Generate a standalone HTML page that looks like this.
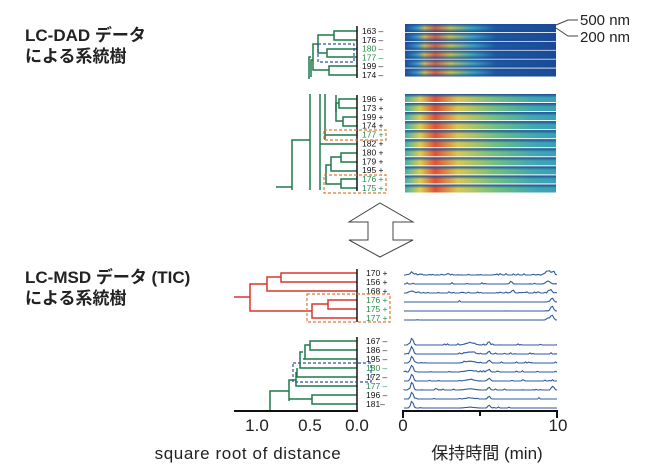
<!DOCTYPE html>
<html><head><meta charset="utf-8"><style>
html,body{margin:0;padding:0;background:#fff;width:650px;height:472px;overflow:hidden}
svg{display:block}
.t{font-family:"Liberation Sans","Noto Sans CJK JP",sans-serif}
</style></head><body>
<svg id="s" width="650" height="472" viewBox="0 0 650 472" xmlns="http://www.w3.org/2000/svg">
<defs>
<linearGradient id="h1" x1="0" x2="1" y1="0" y2="0">
<stop offset="0" stop-color="#1e4f9c"/><stop offset="0.08" stop-color="#3aa0c8"/><stop offset="0.13" stop-color="#d8c050"/><stop offset="0.2" stop-color="#e06040"/><stop offset="0.3" stop-color="#c8c850"/><stop offset="0.45" stop-color="#3aa8c0"/><stop offset="0.6" stop-color="#1e5aa4"/><stop offset="1" stop-color="#1a4a96"/>
</linearGradient>
<linearGradient id="v1" x1="0" x2="0" y1="0" y2="1">
<stop offset="0" stop-color="#1a4a96" stop-opacity="0.9"/><stop offset="0.5" stop-color="#1a4a96" stop-opacity="0"/><stop offset="1" stop-color="#1a4a96" stop-opacity="0.9"/>
</linearGradient>
<linearGradient id="h2" x1="0" x2="1" y1="0" y2="0">
<stop offset="0" stop-color="#40b0b0"/><stop offset="0.1" stop-color="#d8d050"/><stop offset="0.2" stop-color="#e05038"/><stop offset="0.35" stop-color="#d8c850"/><stop offset="0.6" stop-color="#70c080"/><stop offset="0.85" stop-color="#40a8b0"/><stop offset="1" stop-color="#3aa0b8"/>
</linearGradient>
<linearGradient id="v2" x1="0" x2="0" y1="0" y2="1">
<stop offset="0" stop-color="#1a4a96" stop-opacity="1"/><stop offset="0.45" stop-color="#1a4a96" stop-opacity="0"/><stop offset="1" stop-color="#1a4a96" stop-opacity="0"/>
</linearGradient>
</defs>
<g class="t" font-size="17" font-weight="bold" fill="#222">
<text x="25" y="41">LC-DAD データ</text>
<text x="25" y="62">による系統樹</text>
<text x="25" y="283">LC-MSD データ (TIC)</text>
<text x="25" y="304">による系統樹</text>
</g>
<g id="heat"></g>
<g fill="none" stroke="#444" stroke-width="1">
<path d="M556 25 L568 20 L578 20"/><path d="M556 28 L568 36 L578 36"/>
</g>
<g class="t" font-size="15" fill="#222"><text x="580" y="25">500 nm</text><text x="580" y="42">200 nm</text></g>
<g id="labels" class="t" font-size="8.5"></g>
<g fill="none" stroke="#1f7a4a" stroke-width="1.5">
<path d="M357 31H334V40H357"/><path d="M357 49H327V57H357"/><path d="M357 66H329V75H357"/>
<path d="M334 35H318V53H327"/><path d="M318 44H313V70H329"/><path d="M313 60H311V77"/><path d="M311 57H309V79"/>
<path d="M357 99H339V108H357"/><path d="M357 117H343V126H357"/><path d="M339 103H336V121H343"/>
<path d="M336 95V112"/><path d="M357 135H325"/><path d="M325 94V140"/><path d="M357 144H320"/>
<path d="M357 153H341V162H357"/><path d="M341 157H331V171H357"/><path d="M357 179H341V188H357"/><path d="M331 165H326V184H341"/><path d="M320 94V190"/>
<path d="M310 94V190"/><path d="M310 140H292V190"/><path d="M276 187H292"/>
<path d="M357 341H310V350H357"/><path d="M357 359H303"/><path d="M310 345H305V359"/><path d="M303 352H300V368H357"/><path d="M357 377H297V368"/><path d="M357 386H296V372"/><path d="M296 380H289V401"/><path d="M357 395H312V404H357"/><path d="M312 399H289"/><path d="M289 391H270V411"/>
</g>
<g fill="none" stroke="#d9372e" stroke-width="1.5">
<path d="M357 273H281V282H357"/><path d="M281 277H267V291H357"/><path d="M357 300H328V309H357"/><path d="M328 304H312V318H357"/><path d="M267 284H250V311H312"/><path d="M234 297H250"/>
</g>
<g stroke="#111" stroke-width="1.5"><path d="M357 26V78"/><path d="M357 95V191"/><path d="M357 269V322"/><path d="M357 337V411"/></g>
<g fill="none" stroke-dasharray="3,2" stroke-width="1.2">
<rect x="318" y="44" width="36" height="18" stroke="#2f55a0"/>
<rect x="324" y="130" width="62" height="10" stroke="#e07a35"/>
<rect x="324" y="175" width="62" height="18" stroke="#e07a35"/>
<rect x="307" y="294" width="83" height="28" stroke="#e07a35"/>
<rect x="293" y="363" width="78" height="19" stroke="#2f55a0"/>
</g>
<path d="M380 203L413 222H393V240H413L380 257L349 240H368V222H349Z" fill="#fff" stroke="#444" stroke-width="1"/>
<g id="tr" fill="none" stroke="#2f5a9c" stroke-width="1.1"></g>
<g stroke="#111" stroke-width="2" fill="none"><path d="M234 411H358"/><path d="M402 411H558"/><path d="M403 411V418M480 411V416M557 411V418"/></g>
<g class="t" font-size="17" fill="#222" text-anchor="middle">
<text x="257" y="431">1.0</text><text x="310" y="431">0.5</text><text x="357" y="431">0.0</text>
<text x="403" y="431">0</text><text x="558" y="431">10</text>
<text x="248" y="459" letter-spacing="0.6">square root of distance</text><text x="487" y="459">保持時間 (min)</text>
</g>
</svg>
<script>
var NS="http://www.w3.org/2000/svg";
function el(p,t,a,txt){var e=document.createElementNS(NS,t);for(var k in a)e.setAttribute(k,a[k]);if(txt)e.textContent=txt;document.getElementById(p).appendChild(e);}
for(var i=0;i<6;i++){var y=24+i*8.9;el('heat','rect',{x:405,y:y,width:151,height:8,fill:'url(#h1)'});el('heat','rect',{x:405,y:y,width:151,height:8,fill:'url(#v1)'});}
for(var i=0;i<11;i++){var y=94+i*9.05;el('heat','rect',{x:405,y:y,width:151,height:8,fill:'url(#h2)'});el('heat','rect',{x:405,y:y,width:151,height:8,fill:'url(#v2)'});}
function labs(arr,y0,dy,x){arr.forEach(function(l,i){el('labels','text',{x:x,y:y0+i*dy+3,fill:l[1]?'#2a8a4a':'#111'},l[0]);});}
labs([['163 –'],['176 –'],['180 –',1],['177 –',1],['199 –'],['174 –']],31,8.8,362);
labs([['196 +'],['173 +'],['199 +'],['174 +'],['177 +',1],['182 +'],['180 +'],['179 +'],['195 +'],['176 +',1],['175 +',1]],99,8.9,362);
labs([['170 +'],['156 +'],['168 +'],['176 +',1],['175 +',1],['177 +',1]],273,9,366);
labs([['167 –'],['186 –'],['195 –'],['180 –',1],['172 –'],['177 –',1],['196 –'],['181–']],341,9,366);
var seed=7;function rnd(){seed=(seed*9301+49297)%233280;return seed/233280;}
function trace(y,noise,peaks){var d='M404 '+y;for(var x=404;x<=557;x+=1.5){var v=0;if(rnd()<noise)v+=rnd()*1.4;peaks.forEach(function(p){v+=p[1]*Math.exp(-Math.pow((x-p[0])/p[2],2));});d+=' L'+x+' '+(y-v).toFixed(1);}el('tr','path',{d:d});}
var topTr=[[0.4,[[412,2,3],[548,4,3],[553,3,2]]],[0.1,[[511,3,1.5],[548,3,3]]],[0.4,[[412,2,3],[513,3,1.5],[550,3,2]]],[0.01,[[552,4,2]]],[0.01,[[552,5,2]]],[0.01,[[548,2,2],[552,5,2]]]];
topTr.forEach(function(t,i){trace(275+i*9,t[0],t[1]);});
for(var i=0;i<8;i++){var pk=[[412,7,1.8],[470,2.2-i*0.2,6],[489,3,1.5]];if(i==5)pk.push([553,4,1.5]);trace(345+i*9,i<6?0.15:0.05,pk);}
</script>
</body></html>
